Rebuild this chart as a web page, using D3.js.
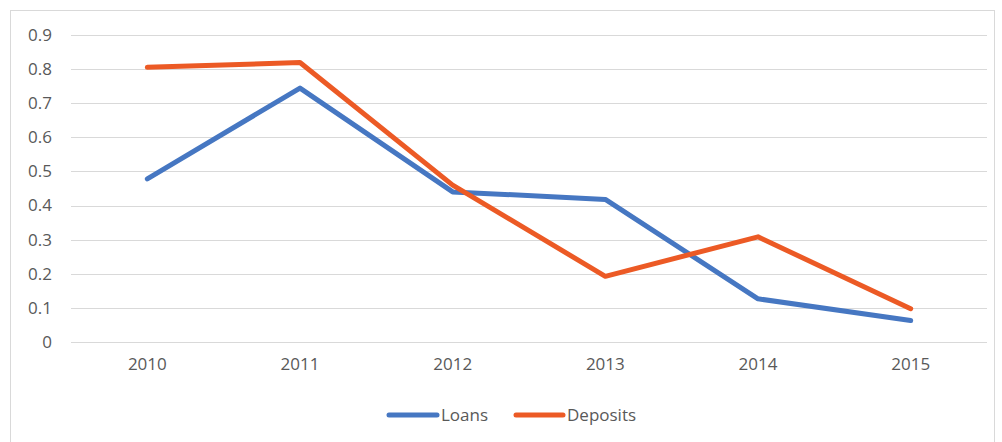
<!DOCTYPE html>
<html>
<head>
<meta charset="utf-8">
<script src="https://cdn.jsdelivr.net/npm/d3@7"></script>
<style>
  html, body { margin: 0; padding: 0; background: #fff; }
  svg { display: block; }
  text { font-family: "Open Sans", sans-serif; fill: #595959; }
</style>
</head>
<body>
<svg id="chart" width="1002" height="442"></svg>
<script>
// Chart data
const years = ["2010", "2011", "2012", "2013", "2014", "2015"];
const loans = [0.478, 0.745, 0.440, 0.418, 0.126, 0.062];
const deposits = [0.806, 0.820, 0.460, 0.192, 0.308, 0.097];
const yTicks = [0, 0.1, 0.2, 0.3, 0.4, 0.5, 0.6, 0.7, 0.8, 0.9];
const seriesNames = ["Loans", "Deposits"];
const seriesColors = ["#4677C2", "#EC5A25"];

const svg = d3.select("#chart");

// Outer chart frame
svg.append("rect")
  .attr("x", 10.5).attr("y", 10.5)
  .attr("width", 984).attr("height", 440)
  .attr("fill", "#fff")
  .attr("stroke", "#d9d9d9")
  .attr("stroke-width", 1);

const plot = { left: 71, right: 987, top: 35.3, bottom: 341.7 };

const x = d3.scaleBand()
  .domain(years)
  .range([plot.left, plot.right]);

const y = d3.scaleLinear()
  .domain([0, 0.9])
  .range([plot.bottom, plot.top]);

// Horizontal gridlines
svg.append("g")
  .selectAll("line")
  .data(yTicks)
  .join("line")
  .attr("x1", plot.left).attr("x2", plot.right)
  .attr("y1", d => Math.round(y(d)) + 0.5)
  .attr("y2", d => Math.round(y(d)) + 0.5)
  .attr("stroke", "#d9d9d9")
  .attr("stroke-width", 1);

// Y axis labels
const yAxis = d3.axisLeft(y)
  .tickValues(yTicks)
  .tickFormat(d => d === 0 ? "0" : d3.format(".1f")(d))
  .tickSize(0)
  .tickPadding(0);

svg.append("g")
  .attr("transform", "translate(52,0)")
  .call(yAxis)
  .call(g => g.select(".domain").remove())
  .call(g => g.selectAll("text")
    .attr("font-size", 17)
    .attr("fill", "#595959")
    .style("font-family", "'Open Sans', sans-serif"));

// X axis labels
const xAxis = d3.axisBottom(x).tickSize(0).tickPadding(0);
svg.append("g")
  .attr("transform", "translate(0,358)")
  .call(xAxis)
  .call(g => g.select(".domain").remove())
  .call(g => g.selectAll("text")
    .attr("font-size", 17)
    .attr("fill", "#595959")
    .style("font-family", "'Open Sans', sans-serif"));

// Series lines
const line = d3.line()
  .x((d, i) => x(years[i]) + x.bandwidth() / 2)
  .y(d => y(d));

[loans, deposits].forEach((vals, k) => {
  svg.append("path")
    .datum(vals)
    .attr("d", line)
    .attr("fill", "none")
    .attr("stroke", seriesColors[k])
    .attr("stroke-width", 5)
    .attr("stroke-linejoin", "round")
    .attr("stroke-linecap", "round");
});

// Legend
const legendItems = [
  { name: seriesNames[0], color: seriesColors[0], x1: 389, x2: 437, tx: 441 },
  { name: seriesNames[1], color: seriesColors[1], x1: 516, x2: 563, tx: 567 }
];
const legend = svg.append("g");
legendItems.forEach(it => {
  legend.append("line")
    .attr("x1", it.x1).attr("x2", it.x2)
    .attr("y1", 415).attr("y2", 415)
    .attr("stroke", it.color)
    .attr("stroke-width", 5)
    .attr("stroke-linecap", "round");
  legend.append("text")
    .attr("x", it.tx).attr("y", 415)
    .attr("dy", "0.35em")
    .attr("font-size", 17)
    .text(it.name);
});
</script>
</body>
</html>
